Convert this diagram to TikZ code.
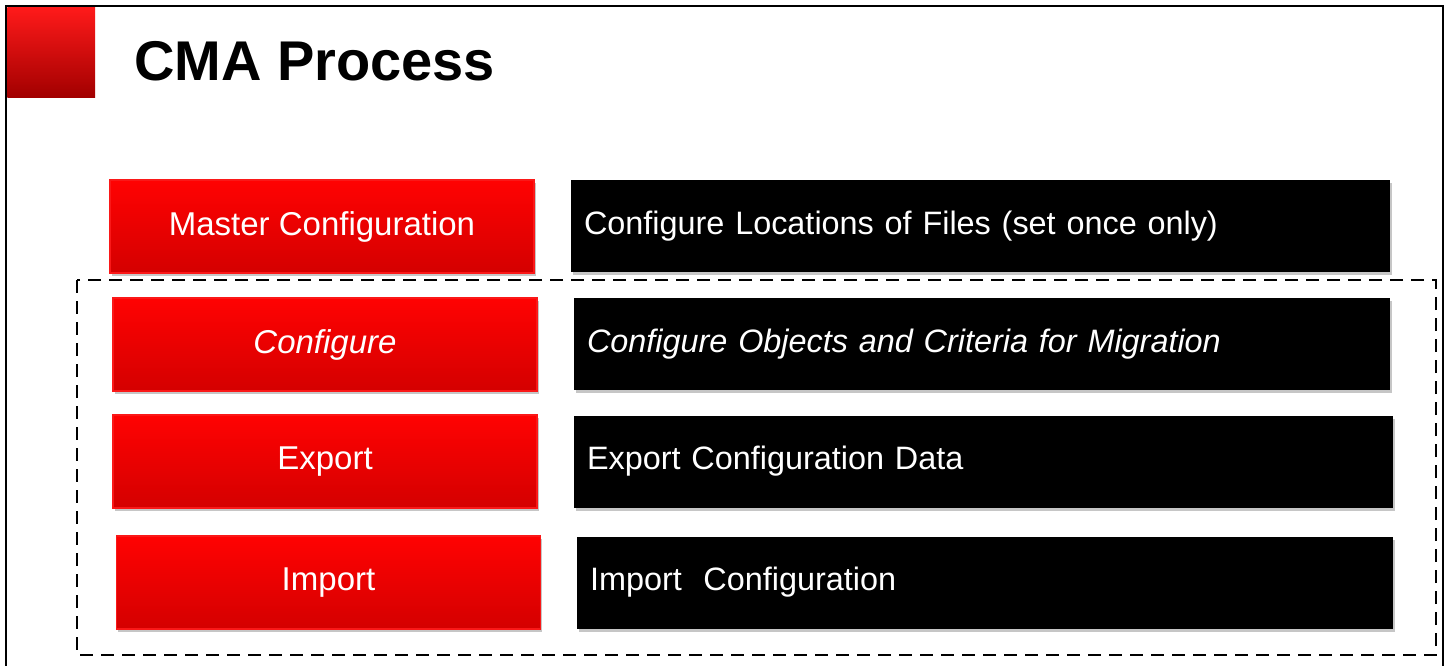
\documentclass[tikz,border=0pt]{standalone}
\usepackage{fontspec}
\setmainfont{Liberation Sans}
\usetikzlibrary{shadows}
\definecolor{redtop}{RGB}{255,2,2}
\definecolor{redbot}{RGB}{212,0,0}
\definecolor{redline}{RGB}{250,24,24}
\definecolor{sqtop}{RGB}{255,26,26}
\definecolor{sqbot}{RGB}{162,0,0}
\tikzset{
  boxshadow/.style={drop shadow={shadow xshift=1.5pt, shadow yshift=-3pt, fill=black!28, opacity=0.8}},
  redbox/.style={minimum width=424pt, minimum height=93pt, inner sep=0pt,
    top color=redtop, bottom color=redbot, draw=redline, line width=1.2pt,
    text=white, font=\fontsize{33}{40}\selectfont, boxshadow},
  blackbox/.style={minimum height=92pt, inner xsep=13pt, inner ysep=0pt, fill=black,
    text=white, align=left, font=\fontsize{32.4}{40}\selectfont, boxshadow},
  frameline/.style={line width=2.6pt, draw=black},
  groupline/.style={line width=2.4pt, draw=black, dash pattern=on 13pt off 8pt}
}
\begin{document}
\begin{tikzpicture}[x=1pt,y=-1pt]
\useasboundingbox (0,0) rectangle (1450,665);
\clip (0,0) rectangle (1450,665);
\fill[white] (0,0) rectangle (1450,665);
% outer frame
\draw[frameline] (6,6) rectangle (1443,720);
% corner square
\shade[top color=sqtop, bottom color=sqbot] (7.3,7.3) rectangle (95,97);
% title
\node[anchor=base west, inner sep=0pt, font=\fontsize{56}{62}\selectfont\bfseries] (title) at (134,80) {CMA Process};
% dashed group
\draw[groupline] (77,280) rectangle (1436,655);
% red boxes
\node[redbox] (master) at (322,226.5) {Master Configuration};
\node[redbox] (configure) at (325,344.5) {\itshape Configure};
\node[redbox] (export) at (325,461.5) {Export};
\node[redbox] (import) at (328.5,582.5) {Import};
% black boxes
\node[blackbox, text width=793pt] (dmaster) at (980.5,226) {Configure Locations of Files (set once only)};
\node[blackbox, text width=790pt] (dconfigure) at (982,344) {\itshape Configure Objects and Criteria for Migration};
\node[blackbox, text width=793pt] (dexport) at (983.5,461.5) {Export Configuration Data};
\node[blackbox, text width=790pt] (dimport) at (985,582.5) {Import\ \ Configuration};
\end{tikzpicture}
\end{document}
